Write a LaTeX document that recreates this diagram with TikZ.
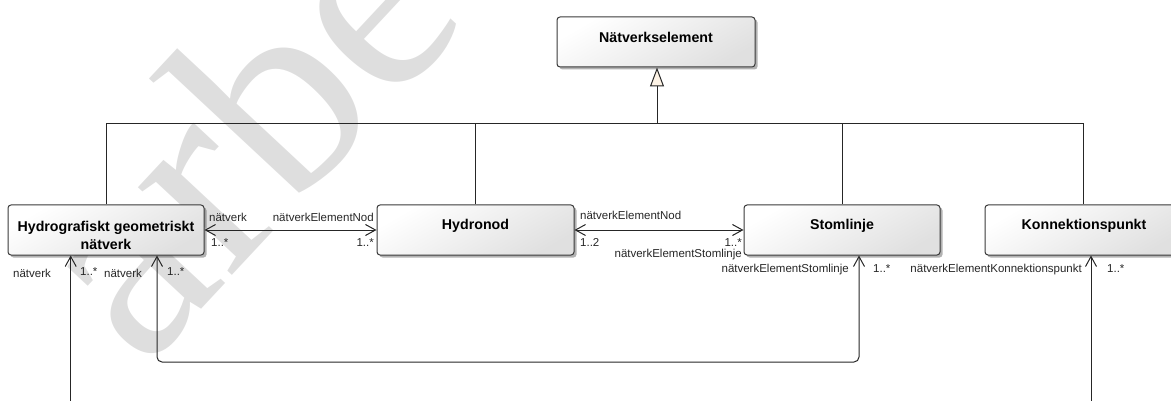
\documentclass[tikz,border=0pt]{standalone}
\usepackage{fontspec}
\setmainfont{Liberation Sans}
\newfontfamily\wmfont{Liberation Serif}
\usetikzlibrary{arrows.meta,shadows}
\definecolor{boxline}{HTML}{3A3A3A}
\definecolor{boxbot}{HTML}{E0E0E0}
\definecolor{tri}{HTML}{FDF3E6}
\definecolor{wm}{HTML}{DEDEDE}
\tikzset{
 cls/.style={draw=boxline, line width=1pt, rounded corners=3pt, minimum width=196pt, minimum height=50pt, inner sep=0pt,
   top color=white, bottom color=boxbot, shading angle=30,
   drop shadow={shadow xshift=2.5pt, shadow yshift=-2.5pt, opacity=0.3, fill=black}},
 title/.style={font=\fontsize{14.2}{18}\selectfont\bfseries, inner sep=0pt, anchor=base, text=black},
 lbl/.style={font=\fontsize{11.5}{13}\selectfont, inner sep=0pt, text=black!85},
 conn/.style={line width=1pt, draw=black!85},
 assoc/.style={conn, {Straight Barb[length=10pt,width=11pt]}-{Straight Barb[length=10pt,width=11pt]}},
 nav/.style={conn, -{Straight Barb[length=10pt,width=11pt]}},
 gen/.style={conn, -{Triangle[length=19pt,width=14pt,fill=tri]}},
 wmark/.style={font=\wmfont\fontsize{280}{280}\selectfont, text=wm, inner sep=0pt, rotate=47},
}
\begin{document}
\begin{tikzpicture}[x=1pt,y=-1pt]
\useasboundingbox (0,0) rectangle (1171,401);
\clip (0,0) rectangle (1171,401);
% watermark
\node[wmark, anchor=base east] (wm1) at (228,280) {a};
\node[wmark, anchor=base west] (wm2) at (228,280) {rbete};
% classes
\node[cls, minimum width=198pt] (ne) at (656,42) {};
\node[cls] (hg) at (106,230) {};
\node[cls, minimum width=197pt] (hn) at (475.5,230) {};
\node[cls] (sl) at (842,230) {};
\node[cls] (kp) at (1083,230) {};
\node[title] (ne-t) at (656,42.3) {Nätverkselement};
\node[title, align=center] (hg-t) at (106,250) {Hydrografiskt geometriskt\\nätverk};
\node[title] (hn-t) at (475.5,229.5) {Hydronod};
\node[title] (sl-t) at (842,229.5) {Stomlinje};
\node[title] (kp-t) at (1084,229.5) {Konnektionspunkt};
% generalization
\coordinate (bus) at (657,124);
\draw[conn] (hg.north) |- (bus);
\draw[conn] (hn.north) |- (bus);
\draw[conn] (sl.north) |- (bus);
\draw[conn] (kp.north) |- (bus);
\draw[gen] (bus) -- (bus |- ne.south);
% associations
\draw[assoc] (hg.east) -- (hn.west);
\draw[assoc] (hn.east) -- (sl.west);
\coordinate (lp1) at (157,362);
\coordinate (lp2) at (859,362);
\draw[assoc, rounded corners=5pt] (lp1 |- hg.south) -- (lp1) -- (lp2) -- (lp2 |- sl.south);
\coordinate (endL) at (70.7,410);
\coordinate (endR) at (1091,410);
\draw[nav] (endL) -- (endL |- hg.south);
\draw[nav] (endR) -- (endR |- kp.south);
% labels
\node[lbl, anchor=base west] (l1) at (209,222) {nätverk};
\node[lbl, anchor=base west] (l2) at (211,246.5) {1..*};
\node[lbl, anchor=base east] (l3) at (374,222) {nätverkElementNod};
\node[lbl, anchor=base east] (l4) at (374,246.5) {1..*};
\node[lbl, anchor=base west] (l5) at (580,219) {nätverkElementNod};
\node[lbl, anchor=base west] (l6) at (580,247) {1..2};
\node[lbl, anchor=base east] (l7) at (742,247) {1..*};
\node[lbl, anchor=base east] (l8) at (742,258) {nätverkElementStomlinje};
\node[lbl, anchor=base west] (l9) at (13,277) {nätverk};
\node[lbl, anchor=base west] (l10) at (80,276) {1..*};
\node[lbl, anchor=base west] (l11) at (104,277) {nätverk};
\node[lbl, anchor=base west] (l12) at (167,276) {1..*};
\node[lbl, anchor=base east] (l13) at (849,272.5) {nätverkElementStomlinje};
\node[lbl, anchor=base west] (l14) at (873,272.5) {1..*};
\node[lbl, anchor=base east] (l15) at (1082,272.5) {nätverkElementKonnektionspunkt};
\node[lbl, anchor=base west] (l16) at (1107,272.5) {1..*};
\end{tikzpicture}
\end{document}
